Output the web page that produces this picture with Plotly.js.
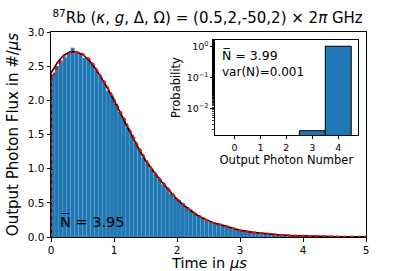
<!DOCTYPE html>
<html><head><meta charset="utf-8">
<script src="https://cdn.plot.ly/plotly-3.0.1.min.js"></script>
<style>html,body{margin:0;padding:0;background:#fff}#c{width:407px;height:271px}</style>
</head><body><div id="c"></div>
<script>
// Histogram (bin width 0.0625 us, 80 bins)
const binWidth = 0.0625;
const histFlux = [2.38,2.50,2.58,2.63,2.69,2.77,2.70,2.68,2.62,2.61,
  2.55,2.44,2.36,2.28,2.14,2.07,1.95,1.83,1.74,1.60,
  1.50,1.38,1.29,1.16,1.08,1.00,0.93,0.85,0.77,0.72,
  0.64,0.58,0.54,0.49,0.44,0.40,0.35,0.32,0.29,0.26,
  0.22,0.205,0.19,0.17,0.155,0.14,0.12,0.11,0.10,0.088,
  0.08,0.07,0.062,0.056,0.05,0.045,0.04,0.035,0.031,0.028,
  0.025,0.022,0.019,0.017,0.015,0.013,0.012,0.011,0.010,0.009,
  0.008,0.007,0.0065,0.006,0.0055,0.005,0.0045,0.004,0.0035,0.003];
// Theory curves
const tCurve = [0,0,0.1,0.2,0.3,0.4,0.5,0.6,0.7,0.8,0.9,1.0,1.1,1.2,1.3,1.4,1.5,1.6,1.7,1.8,1.9,2.0,2.1,2.2,2.3,2.4,2.5,2.6,2.7,2.8,2.9,3.0,3.2,3.4,3.6,3.8,4.0,4.3,4.6,5.0];
const fluxBlack = [0,2.40,2.55,2.66,2.71,2.71,2.67,2.59,2.47,2.33,2.17,2.00,1.82,1.63,1.45,1.28,1.12,0.99,0.87,0.76,0.65,0.55,0.47,0.40,0.33,0.28,0.235,0.20,0.18,0.15,0.125,0.10,0.07,0.048,0.032,0.022,0.015,0.008,0.004,0.002];
const fluxRed = [0,2.28,2.50,2.64,2.70,2.71,2.68,2.61,2.49,2.35,2.19,2.02,1.84,1.65,1.47,1.30,1.14,1.00,0.88,0.77,0.66,0.56,0.48,0.40,0.34,0.28,0.24,0.20,0.18,0.15,0.125,0.10,0.07,0.048,0.032,0.022,0.015,0.008,0.004,0.002];
// Inset photon-number distribution
const photonNumber = [0,1,2,3,4];
const probability = [0,0,0,0.0019,0.998];

const binCenters = histFlux.map((_, i) => (i + 0.5) * binWidth);
const blue = '#1f77b4';
const font = 'DejaVu Sans, sans-serif';

const traces = [
  {type:'bar', x:binCenters, y:histFlux, width:binWidth, marker:{color:blue, line:{color:'rgba(255,255,255,0.12)', width:0.5}}, xaxis:'x', yaxis:'y', showlegend:false, hoverinfo:'skip'},
  {type:'scatter', mode:'lines', x:tCurve, y:fluxBlack, line:{color:'black', width:1.5}, xaxis:'x', yaxis:'y', showlegend:false},
  {type:'scatter', mode:'lines', x:tCurve, y:fluxRed, line:{color:'red', width:2, dash:'4px,3px'}, xaxis:'x', yaxis:'y', showlegend:false},
  {type:'bar', x:photonNumber, y:probability, width:1, marker:{color:blue, line:{color:'black', width:1}}, xaxis:'x2', yaxis:'y2', showlegend:false}
];

const axCommon = {showline:true, linecolor:'black', linewidth:1, mirror:true, ticks:'outside', ticklen:3.5, tickwidth:1, tickcolor:'black', showgrid:false, zeroline:false, tickfont:{family:font, size:10.5, color:'black'}};

const layout = {
  width:407, height:271,
  margin:{l:51, r:41, t:32, b:34},
  paper_bgcolor:'white', plot_bgcolor:'white',
  bargap:0,
  title:{text:'<sup>87</sup>Rb (<i>κ</i>, <i>g</i>, Δ, Ω) = (0.5,2,-50,2) × 2<i>π</i> GHz', font:{family:font, size:15, color:'black'}, x:0.51, xanchor:'center', y:0.935, yanchor:'middle'},
  xaxis:Object.assign({}, axCommon, {domain:[0,1], range:[0,5], tickvals:[0,1,2,3,4,5], anchor:'y'}),
  yaxis:Object.assign({}, axCommon, {domain:[0,1], range:[0,3], tickvals:[0,0.5,1,1.5,2,2.5,3], tickformat:'.1f', anchor:'x',
    title:{text:'Output Photon Flux in #/<i>μs</i>', font:{family:font, size:15, color:'black'}, standoff:5}}),
  xaxis2:Object.assign({}, axCommon, {domain:[0.5206,0.9737], range:[-0.75,4.75], tickvals:[0,1,2,3,4], anchor:'y2',
    tickfont:{family:font, size:9.5, color:'black'},
    title:{text:'Output Photon Number', font:{family:font, size:11.5, color:'black'}, standoff:3}}),
  yaxis2:Object.assign({}, axCommon, {domain:[0.4976,0.961], type:'log', range:[-2.86,0.2], anchor:'x2',
    tickvals:[1,0.1,0.01], ticktext:['10<sup>0</sup>','10<sup>−1</sup>','10<sup>−2</sup>'],
    tickfont:{family:font, size:9.5, color:'black'},
    minor:{ticks:'outside', ticklen:2, tickcolor:'black', tickwidth:0.8, showgrid:false},
    title:{text:'Probability', font:{family:font, size:11.5, color:'black'}, standoff:3}}),
  annotations:[
    {xref:'paper', yref:'paper', x:0.5, y:-0.125, xanchor:'center', yanchor:'middle', showarrow:false, text:'Time in <i>μs</i>', font:{family:font, size:14.5, color:'black'}},
    {xref:'x', yref:'y', x:0.11, y:0.23, xanchor:'left', yanchor:'middle', showarrow:false, text:'N\u0305 = 3.95', font:{family:font, size:14.5, color:'black'}},
    {xref:'paper', yref:'paper', x:0.538, y:0.885, xanchor:'left', yanchor:'middle', showarrow:false, text:'N\u0305 = 3.99', font:{family:font, size:12.5, color:'black'}},
    {xref:'paper', yref:'paper', x:0.538, y:0.805, xanchor:'left', yanchor:'middle', showarrow:false, text:'var(N)=0.001', font:{family:font, size:12, color:'black'}}
  ]
};

Plotly.newPlot('c', traces, layout, {staticPlot:true, displayModeBar:false});
</script></body></html>
